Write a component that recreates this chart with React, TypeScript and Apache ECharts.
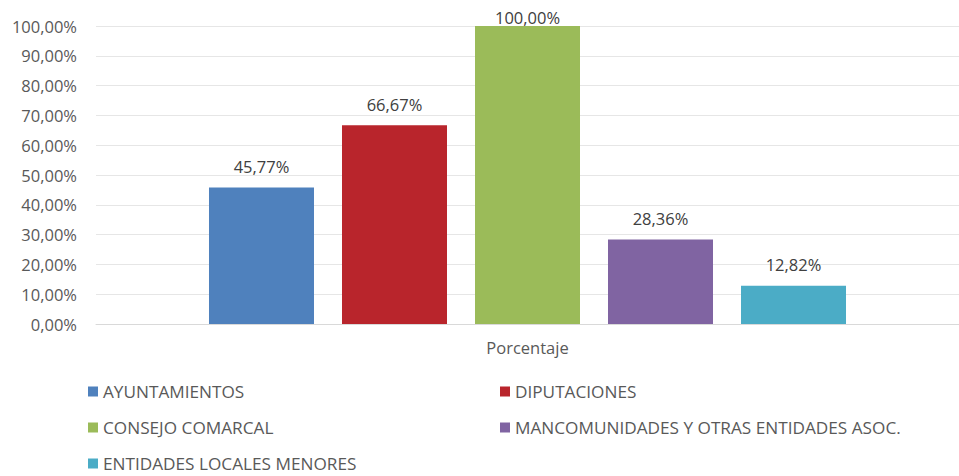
import React, { useEffect, useRef } from "react";
import * as echarts from "echarts";

const categories = ["Porcentaje"];
const seriesNames = [
  "AYUNTAMIENTOS",
  "DIPUTACIONES",
  "CONSEJO COMARCAL",
  "MANCOMUNIDADES Y OTRAS ENTIDADES ASOC.",
  "ENTIDADES LOCALES MENORES",
];
const seriesValues = [45.77, 66.67, 100.0, 28.36, 12.82];
const seriesColors = ["#4F81BD", "#B9252C", "#9BBB59", "#8064A2", "#4BACC6"];
const legendLeftCol = ["AYUNTAMIENTOS", "CONSEJO COMARCAL", "ENTIDADES LOCALES MENORES"];
const legendRightCol = ["DIPUTACIONES", "MANCOMUNIDADES Y OTRAS ENTIDADES ASOC."];

const FONT = "'Open Sans', sans-serif";
const fmt = (v: number) => v.toFixed(2).replace(".", ",") + "%";

export default function App() {
  const ref = useRef<HTMLDivElement>(null);
  useEffect(() => {
    document.body.style.margin = "0";
    if (!ref.current) return;
    const chart = echarts.init(ref.current, undefined, { renderer: "svg" });
    const legendText = { fontFamily: FONT, fontSize: 17.2, color: "#595959" };
    const legendBase = {
      orient: "vertical",
      top: 383,
      height: 130,
      padding: 0,
      icon: "rect",
      itemWidth: 10,
      itemHeight: 10,
      itemGap: 19,
      textStyle: legendText,
    };
    chart.setOption({
      animation: false,
      textStyle: { fontFamily: FONT },
      grid: { left: 96, top: 26, height: 298, width: 863 },
      legend: [
        { ...legendBase, data: legendLeftCol, left: 88 },
        { ...legendBase, data: legendRightCol, left: 500 },
      ],
      xAxis: {
        type: "category",
        data: categories,
        axisTick: { show: false },
        axisLine: { lineStyle: { color: "#D9D9D9", width: 1 } },
        axisLabel: { fontFamily: FONT, fontSize: 16.5, color: "#595959", margin: 15 },
      },
      yAxis: {
        type: "value",
        min: 0,
        max: 100,
        interval: 10,
        axisLine: { show: false },
        axisTick: { show: false },
        splitLine: { lineStyle: { color: "#E6E6E6", width: 1 } },
        axisLabel: {
          fontFamily: FONT,
          fontSize: 16.5,
          color: "#595959",
          margin: 19,
          formatter: (v: number) => fmt(v),
        },
      },
      series: seriesNames.map((name, i) => ({
        name,
        type: "bar",
        data: [seriesValues[i]],
        barWidth: 105,
        barGap: "26.67%",
        itemStyle: { color: seriesColors[i] },
        label: {
          show: true,
          position: "top",
          distance: seriesValues[i] >= 100 ? 1 : 13,
          fontFamily: FONT,
          fontSize: 16.5,
          lineHeight: 16,
          color: "#404040",
          formatter: (p: any) => fmt(p.value),
        },
      })),
    });
    return () => chart.dispose();
  }, []);
  return <div ref={ref} style={{ width: 959, height: 476 }} />;
}
